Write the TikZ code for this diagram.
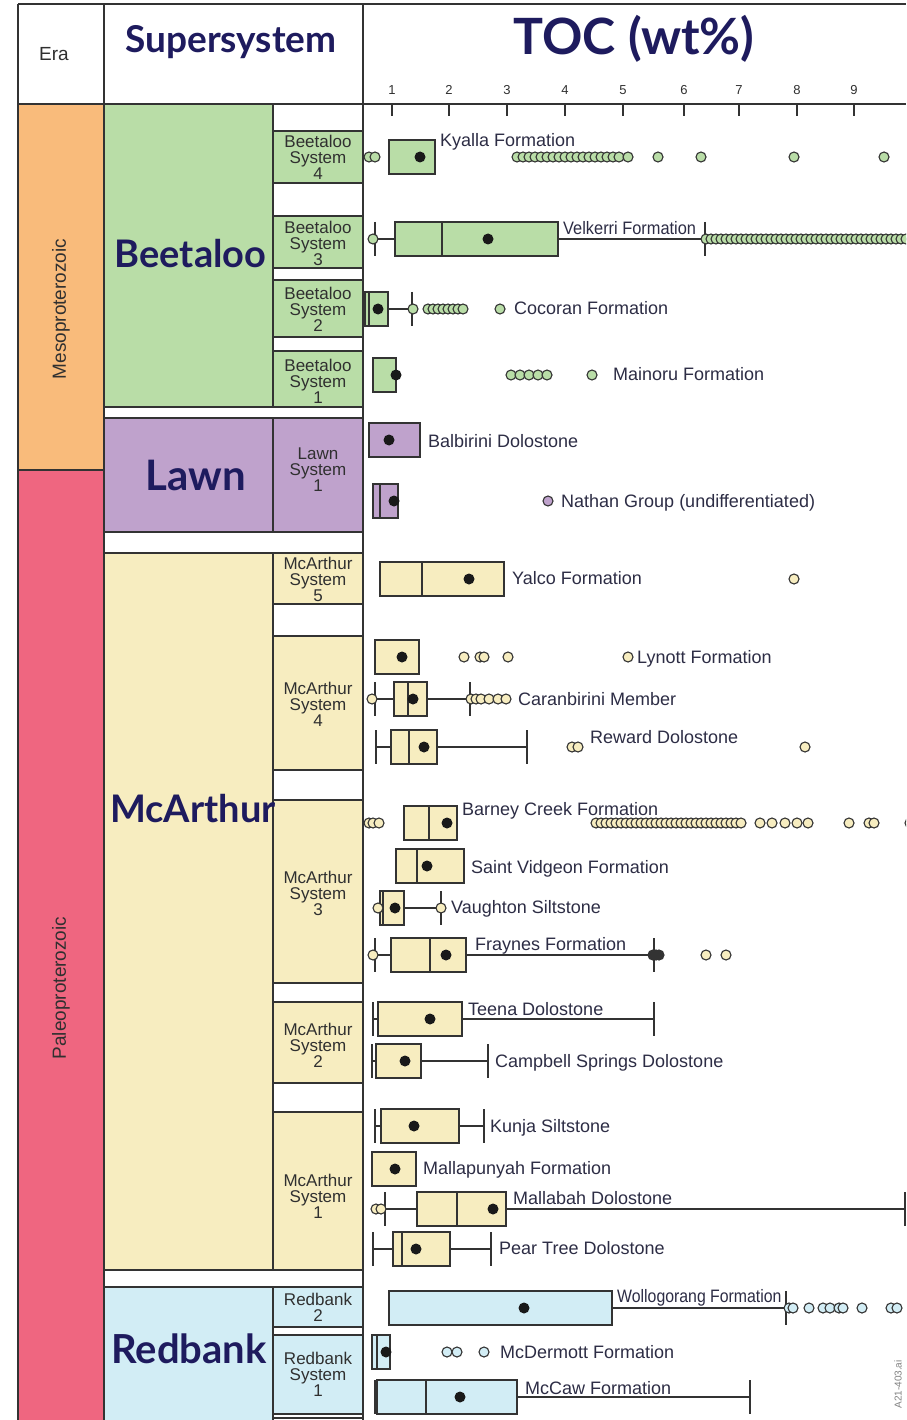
\documentclass[tikz,border=0pt]{standalone}
\usepackage{fontspec}
\setmainfont{Liberation Sans}
\newfontfamily\latofont{Lato}
\definecolor{orng}{HTML}{F9BB7B}
\definecolor{pnk}{HTML}{EF6680}
\definecolor{grn}{HTML}{B9DDA7}
\definecolor{prp}{HTML}{BFA2CC}
\definecolor{ylw}{HTML}{F7EDC0}
\definecolor{lblu}{HTML}{D2EDF5}
\definecolor{navy}{HTML}{1E1B5E}
\definecolor{lc}{HTML}{333333}
\definecolor{labc}{HTML}{2D2D45}
\definecolor{sysc}{HTML}{303030}
\tikzset{
  frm/.style={draw=lc, line width=1.3pt},
  bx/.style={draw=lc, line width=1.2pt},
  ol/.style={draw=lc, line width=1.1pt},
  meanc/.style={fill=black!90},
  lab/.style={anchor=base west, inner sep=0pt, text=labc, font=\fontsize{18}{20}\selectfont},
  sys/.style={align=center, inner sep=0pt, text=sysc, font=\fontsize{17}{16}\selectfont},
  big/.style={anchor=base, inner sep=0pt, text=navy, font=\latofont\bfseries\fontsize{38}{40}\selectfont},
  era/.style={rotate=90, inner sep=0pt, text=sysc, font=\fontsize{19}{20}\selectfont},
  tick/.style={inner sep=0pt, text=sysc, font=\fontsize{13}{14}\selectfont}
}
\newcommand\bxp[4]{\draw[bx,fill=#4] (#2,#1-17) rectangle (#3,#1+17);}
\newcommand\mdl[2]{\draw[bx] (#2,#1-17) -- (#2,#1+17);}
\newcommand\mnd[2]{\fill[meanc] (#2,#1) circle[radius=5.5pt];}
\newcommand\wln[3]{\draw[bx] (#2,#1) -- (#3,#1);}
\newcommand\wcp[2]{\draw[bx] (#2,#1-17) -- (#2,#1+17);}
\newcommand\ous[3]{\foreach \q in {#3}{\draw[ol,fill=#2] (\q,#1) circle[radius=5pt];}}
\begin{document}
\begin{tikzpicture}[x=1pt,y=-1pt]
\useasboundingbox (0,0) rectangle (906,1420);
\clip (0,0) rectangle (906,1420);
\fill[white] (0,0) rectangle (906,1420);
% era column
\fill[orng] (18,104) rectangle (104,470);
\fill[pnk] (18,470) rectangle (104,1425);
% supersystems
\draw[frm, fill=grn] (104,104) rectangle (273,407);
\draw[frm, fill=prp] (104,418) rectangle (273,532);
\draw[frm, fill=ylw] (104,553) rectangle (273,1270);
\draw[frm, fill=lblu] (104,1287) rectangle (273,1430);
% systems
\draw[frm, fill=grn] (273,131) rectangle (363,183);
\draw[frm, fill=grn] (273,216) rectangle (363,268);
\draw[frm, fill=grn] (273,280) rectangle (363,337);
\draw[frm, fill=grn] (273,351) rectangle (363,407);
\draw[frm, fill=prp] (273,418) rectangle (363,532);
\draw[frm, fill=ylw] (273,553) rectangle (363,604);
\draw[frm, fill=ylw] (273,636) rectangle (363,770);
\draw[frm, fill=ylw] (273,800) rectangle (363,983);
\draw[frm, fill=ylw] (273,1002) rectangle (363,1083);
\draw[frm, fill=ylw] (273,1112) rectangle (363,1270);
\draw[frm, fill=lblu] (273,1287) rectangle (363,1327);
\draw[frm, fill=lblu] (273,1335) rectangle (363,1414);
\draw[frm] (273,1418) rectangle (363,1430);
% frame lines
\draw[frm] (18,4) -- (906,4);
\draw[frm] (18,4) -- (18,1430);
\draw[frm] (104,4) -- (104,1430);
\draw[frm] (363,4) -- (363,1430);
\draw[frm] (18,104) -- (906,104);
\draw[frm] (18,470) -- (104,470);
% header
\node[inner sep=0pt, anchor=base, text=sysc, font=\fontsize{19}{20}\selectfont] (hera) at (54,61) {Era};
\node[inner sep=0pt, anchor=base, text=navy, font=\latofont\bfseries\fontsize{37}{40}\selectfont] (hsup) at (231,53) {Supersystem};
\node[inner sep=0pt, anchor=base, text=navy, font=\latofont\bfseries\fontsize{50}{52}\selectfont] (htoc) at (634,55) {TOC (wt\%)};
\foreach \t/\xx in {1/392,2/449,3/507,4/565,5/623,6/684,7/739,8/797,9/854}{
  \draw[frm] (\xx,104) -- (\xx,116);
  \node[tick] (tk\t) at (\xx,90) {\t};
}
% era labels
\node[era] (meso) at (61,309) {Mesoproterozoic};
\node[era] (paleo) at (61,988) {Paleoproterozoic};
% system labels
\node[sys] (bs4) at (318,157) {Beetaloo\\System\\4};
\node[sys] (bs3) at (318,243) {Beetaloo\\System\\3};
\node[sys] (bs2) at (318,309) {Beetaloo\\System\\2};
\node[sys] (bs1) at (318,381) {Beetaloo\\System\\1};
\node[sys] (ls1) at (318,470) {Lawn\\System\\1};
\node[sys] (ms5) at (318,579) {McArthur\\System\\5};
\node[sys] (ms4) at (318,704) {McArthur\\System\\4};
\node[sys] (ms3) at (318,893) {McArthur\\System\\3};
\node[sys] (ms2) at (318,1045) {McArthur\\System\\2};
\node[sys] (ms1) at (318,1196) {McArthur\\System\\1};
\node[sys] (rb2) at (318,1307) {Redbank\\2};
\node[sys] (rb1) at (318,1374) {Redbank\\System\\1};
% supersystem labels
\node[big] (sbeet) at (190.5,268) {Beetaloo};
\node[big, font=\latofont\bfseries\fontsize{42}{44}\selectfont] (slawn) at (195.5,490) {Lawn};
\node[big] (smca) at (193,822) {McArthur};
\node[big, font=\latofont\bfseries\fontsize{40}{44}\selectfont] (sred) at (189,1363) {Redbank};

% ===== box plots =====
% Kyalla
\bxp{157}{389}{435}{grn} \ous{157}{grn}{369,375}
\ous{157}{grn}{517,523,...,619} \ous{157}{grn}{628,658,701,794,884} \mnd{157}{420}
\node[lab] (kya) at (440,147) {Kyalla Formation};
% Velkerri
\wln{239}{375}{395} \wcp{239}{375} \wln{239}{558}{705} \wcp{239}{705}
\bxp{239}{395}{558}{grn} \mdl{239}{442}
\ous{239}{grn}{373} \ous{239}{grn}{706,711,...,906} \mnd{239}{488}
\node[lab, xscale=0.91] (vel) at (563,235) {Velkerri Formation};
% Cocoran
\wln{309}{388}{412} \wcp{309}{412}
\bxp{309}{365}{388}{grn} \mdl{309}{369}
\ous{309}{grn}{413,500} \ous{309}{grn}{428,433,...,464} \mnd{309}{378}
\node[lab] (coc) at (514,315) {Cocoran Formation};
% Mainoru
\bxp{375}{373}{396}{grn}
\ous{375}{grn}{511,520,529,538,547,592} \mnd{375}{396}
\node[lab] (mai) at (613,380) {Mainoru Formation};
% Balbirini
\bxp{440}{369}{420}{prp} \mnd{440}{389}
\node[lab] (bal) at (428,447) {Balbirini Dolostone};
% Nathan
\bxp{501}{373}{398}{prp} \mdl{501}{380}
\ous{501}{prp}{548} \mnd{501}{394}
\node[lab] (nat) at (561,507) {Nathan Group (undifferentiated)};
% Yalco
\bxp{579}{380}{504}{ylw} \mdl{579}{422}
\ous{579}{ylw}{794} \mnd{579}{469}
\node[lab] (yal) at (512,584) {Yalco Formation};
% Lynott
\bxp{657}{375}{419}{ylw}
\ous{657}{ylw}{464,480,484,508,628} \mnd{657}{402}
\node[lab] (lyn) at (637,663) {Lynott Formation};
% Caranbirini
\wln{699}{375}{394} \wcp{699}{375} \wln{699}{427}{470} \wcp{699}{470}
\bxp{699}{394}{427}{ylw} \mdl{699}{408}
\ous{699}{ylw}{372,471,476,481,489,498,506} \mnd{699}{413}
\node[lab] (car) at (518,705) {Caranbirini Member};
% Reward
\wln{747}{376}{391} \wcp{747}{376} \wln{747}{437}{527} \wcp{747}{527}
\bxp{747}{391}{437}{ylw} \mdl{747}{409}
\ous{747}{ylw}{572,578,805} \mnd{747}{424}
\node[lab] (rew) at (590,743) {Reward Dolostone};
% Barney Creek
\bxp{823}{404}{457}{ylw} \mdl{823}{429}
\ous{823}{ylw}{369,373,379} \ous{823}{ylw}{596,601,...,741}
\ous{823}{ylw}{760,772,785,797,808,849,869,874,910} \mnd{823}{447}
\node[lab] (bar) at (462,815) {Barney Creek Formation};
% Saint Vidgeon
\bxp{866}{396}{464}{ylw} \mdl{866}{417} \mnd{866}{427}
\node[lab] (sai) at (471,873) {Saint Vidgeon Formation};
% Vaughton
\wln{908}{404}{441} \wcp{908}{441}
\bxp{908}{380}{404}{ylw} \mdl{908}{383}
\ous{908}{ylw}{378,441} \mnd{908}{395}
\node[lab] (vau) at (451,913) {Vaughton Siltstone};
% Fraynes
\wln{955}{375}{391} \wcp{955}{375} \wln{955}{466}{654} \wcp{955}{654}
\bxp{955}{391}{466}{ylw} \mdl{955}{430}
\ous{955}{ylw}{373,706,726}
\foreach \q in {653,656,659}{\draw[ol,fill=black!80] (\q,955) circle[radius=5pt];}
\mnd{955}{446}
\node[lab] (fra) at (475,950) {Fraynes Formation};
% Teena
\wln{1019}{373}{378} \wcp{1019}{373} \wln{1019}{462}{654} \wcp{1019}{654}
\bxp{1019}{378}{462}{ylw} \mnd{1019}{430}
\node[lab] (tee) at (468,1015) {Teena Dolostone};
% Campbell Springs
\wln{1061}{372}{376} \wcp{1061}{372} \wln{1061}{421}{488} \wcp{1061}{488}
\bxp{1061}{376}{421}{ylw} \mnd{1061}{405}
\node[lab] (cam) at (495,1067) {Campbell Springs Dolostone};
% Kunja
\wln{1126}{375}{381} \wcp{1126}{375} \wln{1126}{459}{484} \wcp{1126}{484}
\bxp{1126}{381}{459}{ylw} \mnd{1126}{414}
\node[lab] (kun) at (490,1132) {Kunja Siltstone};
% Mallapunyah
\bxp{1169}{372}{416}{ylw} \mnd{1169}{395}
\node[lab] (mlp) at (423,1174) {Mallapunyah Formation};
% Mallabah
\wln{1209}{385}{417} \wcp{1209}{385} \wln{1209}{506}{905} \wcp{1209}{905}
\bxp{1209}{417}{506}{ylw} \mdl{1209}{457}
\ous{1209}{ylw}{376,381} \mnd{1209}{493}
\node[lab] (mlb) at (513,1204) {Mallabah Dolostone};
% Pear Tree
\wln{1249}{373}{393} \wcp{1249}{373} \wln{1249}{450}{491} \wcp{1249}{491}
\bxp{1249}{393}{450}{ylw} \mdl{1249}{402} \mnd{1249}{416}
\node[lab] (pea) at (499,1254) {Pear Tree Dolostone};
% Wollogorang
\wln{1308}{612}{786} \wcp{1308}{786}
\bxp{1308}{389}{612}{lblu}
\ous{1308}{lblu}{789,793,809,823,830,839,843,862,891,897} \mnd{1308}{524}
\node[lab, xscale=0.88] (wol) at (617,1302) {Wollogorang Formation};
% McDermott
\bxp{1352}{372}{390}{lblu} \mdl{1352}{377}
\ous{1352}{lblu}{447,457,484} \mnd{1352}{386}
\node[lab] (mcd) at (500,1358) {McDermott Formation};
% McCaw
\wln{1397}{375}{377} \wcp{1397}{375} \wln{1397}{517}{750} \wcp{1397}{750}
\bxp{1397}{377}{517}{lblu} \mdl{1397}{426} \mnd{1397}{460}
\node[lab] (mcc) at (525,1394) {McCaw Formation};
% file tag
\node[rotate=90, anchor=east, inner sep=0pt, text=gray, font=\fontsize{10}{11}\selectfont] (tag) at (898,1360) {A21-403.ai};
\end{tikzpicture}
\end{document}
